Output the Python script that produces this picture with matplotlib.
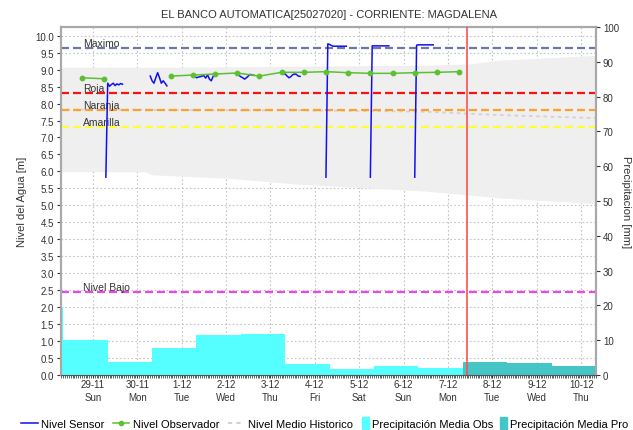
import matplotlib
matplotlib.use('Agg')
import matplotlib.pyplot as plt
import matplotlib.dates as mdates
import matplotlib.patches as mpatches
from matplotlib.lines import Line2D
from matplotlib.legend_handler import HandlerPatch
from matplotlib.ticker import MultipleLocator, FuncFormatter
from matplotlib import transforms
import numpy as np
import pandas as pd

plt.rcParams['font.family'] = ['Liberation Sans', 'DejaVu Sans']

title = 'EL BANCO AUTOMATICA[25027020] - CORRIENTE: MAGDALENA'

# alert levels [m]
level_names = ['Maximo', 'Roja', 'Naranja', 'Amarilla', 'Nivel Bajo']
level_values = [9.65, 8.31, 7.81, 7.30, 2.44]
level_colors = ['#6B78A6', '#FF1010', '#FFA030', '#FFFF30', '#EE44EE']

# historical envelope and mean level [m]
hist_times = ['2015-11-28 06:00', '2015-11-30 04:00', '2015-11-30 08:00', '2015-12-02 00:00',
              '2015-12-03 16:00', '2015-12-06 12:00', '2015-12-07 12:00', '2015-12-08 04:00',
              '2015-12-10 08:00']
hist_upper = [9.07, 9.07, 9.07, 9.08, 9.10, 9.13, 9.17, 9.28, 9.42]
hist_lower = [6.00, 5.99, 5.90, 5.80, 5.62, 5.42, 5.30, 5.22, 5.05]
hist_mean = [7.82, 7.82, 7.81, 7.80, 7.80, 7.76, 7.70, 7.66, 7.57]

# observer readings (06:00 / 18:00), NaN = missing
obs_times = ['2015-11-28 18:00', '2015-11-29 06:00', '2015-11-30 06:00',
             '2015-11-30 18:00', '2015-12-01 06:00', '2015-12-01 18:00',
             '2015-12-02 06:00', '2015-12-02 18:00', '2015-12-03 06:00',
             '2015-12-03 18:00', '2015-12-04 06:00', '2015-12-04 18:00',
             '2015-12-05 06:00', '2015-12-05 18:00', '2015-12-06 06:00',
             '2015-12-06 18:00', '2015-12-07 06:00']
obs_levels = [8.76, 8.73, np.nan, 8.81, 8.84, 8.87, 8.90, 8.81, 8.92,
              8.92, 8.94, 8.91, 8.89, 8.89, 8.91, 8.92, 8.94]

# hourly sensor readings, one block per day
sensor_starts = ['2015-11-29 07:00', '2015-11-30 07:00', '2015-12-01 07:00',
                 '2015-12-02 06:00', '2015-12-03 06:00', '2015-12-04 06:00',
                 '2015-12-05 06:00', '2015-12-06 06:00']
sensor_levels = [
    [5.83, 8.60, 8.51, 8.56, 8.60, 8.53, 8.58, 8.55, 8.59, 8.57],
    [8.81, 8.67, 8.60, 8.76, 8.91, 8.76, 8.60, 8.67, 8.60, 8.52],
    [8.81, 8.76, 8.78, 8.79, 8.81, 8.82, 8.75, 8.85, 8.72, 8.67, 8.80],
    [8.86, 8.83, 8.79, 8.76, 8.72, 8.76, 8.81, 8.86, 8.84, 8.83],
    [8.89, 8.88, 8.87, 8.81, 8.76, 8.79, 8.85, 8.87, 8.86, 8.81, 8.80],
    [5.83, 9.76, 9.74, 9.71, 9.69, 9.69, 9.69, 9.69, 9.69, 9.69, 9.69, 9.69],
    [5.83, 9.70, 9.70, 9.70, 9.70, 9.70, 9.70, 9.70, 9.70, 9.70, 9.70],
    [5.83, 9.72, 9.73, 9.73, 9.73, 9.73, 9.73, 9.73, 9.73, 9.73, 9.73],
]

# daily precipitation [mm], days start at 08:00
rain_obs_start = '2015-11-27 08:00'
rain_obs = [19.5, 10.0, 3.6, 7.8, 11.5, 11.8, 3.2, 1.7, 2.6, 2.0]
rain_pro_start = '2015-12-07 08:00'
rain_pro = [3.7, 3.4, 2.7]

now_time = '2015-12-07 10:30'
x_range = ['2015-11-28 06:45', '2015-12-10 08:00']

c_sensor = '#1010F0'
c_obs = '#5CC030'
c_mean = '#D2D2D2'
c_rain_obs = '#55FFFF'
c_rain_pro = '#44C6C6'
c_text = '#333333'

fig = plt.figure(figsize=(6.33, 4.31), dpi=100)
ax = fig.add_axes([61 / 633, 1 - 376 / 431, 535 / 633, 348 / 431])
ax2 = ax.twinx()

# historical band and mean
ht = pd.to_datetime(hist_times)
ax.fill_between(ht, hist_lower, hist_upper, color='#EFEFEF', lw=0, zorder=1)
ax.plot(ht, hist_mean, color=c_mean, lw=1.3, ls=(0, (2, 2)), zorder=2)

# alert levels with their names
trans = transforms.blended_transform_factory(ax.transAxes, ax.transData)
for name, val, col in zip(level_names, level_values, level_colors):
    ax.axhline(val, color=col, lw=1.6, ls=(0, (3.6, 1.8)), zorder=3)
    ax.text(0.041, val + 0.06, name, transform=trans, fontsize=7.5,
            color=c_text, va='baseline', zorder=4)

# sensor and observer series
for start, vals in zip(sensor_starts, sensor_levels):
    t = pd.date_range(start, periods=len(vals), freq='h')
    ax.plot(t, vals, color=c_sensor, lw=1.1, zorder=5)
ax.plot(pd.to_datetime(obs_times), obs_levels, color=c_obs, lw=1.1,
        marker='o', ms=3.2, zorder=6)

# precipitation bars
t_obs = pd.date_range(rain_obs_start, periods=len(rain_obs), freq='D')
t_pro = pd.date_range(rain_pro_start, periods=len(rain_pro), freq='D')
ax2.bar(t_obs, rain_obs, width=1.0, align='edge', color=c_rain_obs, lw=0, zorder=2)
ax2.bar(t_pro, rain_pro, width=1.0, align='edge', color=c_rain_pro, lw=0, zorder=2)
ax2.axvline(pd.Timestamp(now_time), color='#FF5050', lw=1.2, zorder=3)

# axes ranges and ticks
ax.set_xlim(pd.Timestamp(x_range[0]), pd.Timestamp(x_range[1]))
ax.set_ylim(0, 10.256)
ax2.set_ylim(0, 100)
ax.yaxis.set_major_locator(MultipleLocator(0.5))
ax.yaxis.set_major_formatter(FuncFormatter(lambda v, p: f'{v:.1f}'))
ax2.set_yticks(np.arange(0, 101, 10))

ax.xaxis.set_major_locator(mdates.DayLocator())
ax.xaxis.set_minor_locator(mdates.HourLocator())


def day_label(x, pos):
    d = mdates.num2date(x)
    return f'{d.day}-{d.month}\n{d:%a}'


ax.xaxis.set_major_formatter(FuncFormatter(day_label))

ax.grid(True, which='major', color='#C4C4C4', ls=(0, (1.5, 2)), lw=0.8)
ax.set_axisbelow(True)

ax.tick_params(axis='y', labelsize=7, colors=c_text, length=3, width=0.8, pad=2)
ax2.tick_params(axis='y', labelsize=7, colors=c_text, length=3, width=0.8, pad=2)
ax.tick_params(axis='x', which='major', labelsize=7, colors=c_text, length=2, width=0.8, pad=1)
ax.tick_params(axis='x', which='minor', colors='#444444', length=2, width=0.6)
for lab in ax.get_xticklabels():
    lab.set_linespacing(1.35)
for a in (ax.yaxis, ax2.yaxis):
    for t in a.get_ticklines():
        t.set_color('#777777')

for a in (ax, ax2):
    for side in ('top', 'left', 'right'):
        a.spines[side].set_color('#A8A8A8')
        a.spines[side].set_linewidth(1.5)
    a.spines['bottom'].set_color('#555555')
    a.spines['bottom'].set_linewidth(0.8)

ax.set_ylabel('Nivel del Agua [m]', fontsize=8, color=c_text, va='center')
ax.yaxis.set_label_coords((22 - 61) / 535, 0.5)
ax2.set_ylabel('Precipitacion [mm]', fontsize=8, color=c_text, rotation=270, va='center')
ax2.yaxis.set_label_coords((626 - 61) / 535, 0.5)

fig.text(329 / 633, 1 - 15 / 431, title, ha='center', va='center',
         fontsize=8, color=c_text)


# narrow colour box for the bar entries in the legend
def narrow_box(legend, orig_handle, xdescent, ydescent, width, height, fontsize):
    return mpatches.Rectangle((-xdescent, -ydescent - 1.5), width, height + 3)


line_handles = [
    Line2D([], [], color=c_sensor, lw=1.1),
    Line2D([], [], color=c_obs, lw=1.1, marker='o', ms=3),
    Line2D([], [], color=c_mean, lw=1.5, ls=(0, (2, 2))),
]
line_labels = ['Nivel Sensor', 'Nivel Observador', 'Nivel Medio Historico']
bar_handles = [mpatches.Patch(color=c_rain_obs), mpatches.Patch(color=c_rain_pro)]
bar_labels = ['Precipitación Media Obs', 'Precipitación Media Pro']

leg_kw = dict(loc='lower left', frameon=False, fontsize=8, handletextpad=0.3,
              borderpad=0, borderaxespad=0)
leg1 = fig.legend(line_handles, line_labels, bbox_to_anchor=(21 / 633, 1 / 431),
                  ncol=3, handlelength=1.5, columnspacing=0.75, **leg_kw)
fig.legend(bar_handles, bar_labels, bbox_to_anchor=(362 / 633, 1 / 431),
           ncol=2, handlelength=0.6, columnspacing=0.6,
           handler_map={mpatches.Patch: HandlerPatch(patch_func=narrow_box)}, **leg_kw)

fig.savefig('out.png', dpi=100)
plt.close(fig)
